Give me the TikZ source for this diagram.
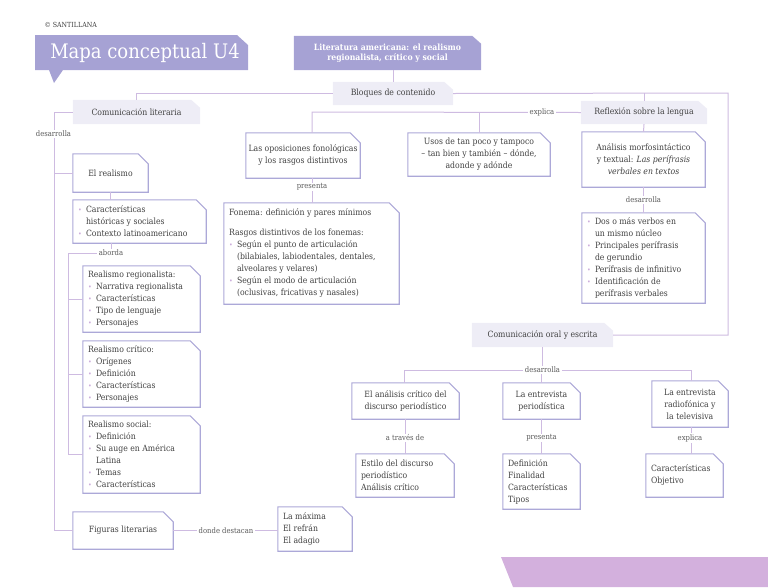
\documentclass[tikz,border=0pt]{standalone}
\usepackage{fontspec}
\setmainfont{DejaVu Serif Condensed}
\usetikzlibrary{backgrounds}
\definecolor{lila}{HTML}{A6A2D4}
\definecolor{lilaclaro}{HTML}{EEEDF6}
\definecolor{borde}{HTML}{ACA8D8}
\definecolor{linea}{HTML}{CEBBE1}
\definecolor{punto}{HTML}{CDAEDC}
\definecolor{franja}{HTML}{D3B0DD}
\definecolor{texto}{HTML}{404040}
\definecolor{gris}{HTML}{5A5A5A}
\newcommand\bul{\makebox[8pt][l]{\textcolor{punto}{\scriptsize•}}}
\newcommand\sig{\hspace*{8pt}}
\tikzset{
	caja/.style={inner xsep=5pt, inner ysep=2pt, text=texto, font=\fontsize{8.6}{12}\selectfont},
	etq/.style={fill=white, text=gris, inner xsep=2pt, inner ysep=1pt, font=\fontsize{7.6}{9}\selectfont},
	marco/.style={draw=borde, fill=white, line width=1.1pt},
	con/.style={draw=linea, line width=1pt}
}
\begin{document}
\begin{tikzpicture}[x=1pt, y=-1pt, line join=round, line cap=round]
	\useasboundingbox (0,0) rectangle (768,587);
	\path 
	(54,112) coordinate (izq)
	(68,253) coordinate (izq2)
	(728,93) coordinate (der)
	(312,112) coordinate (c1)
	(404,370) coordinate (c2)
	(691,370) coordinate (c3)
	;
	\fill[lila] (35,35) -- (237,35) -- (248,45) -- (248,70) -- (63,70) -- (54,83) -- (49,70) -- (35,70) -- cycle;
	\fill[franja] (501,557) -- (768,557) -- (768,587) -- (513,587) -- cycle;
	\node[anchor=west, text=texto, font=\fontsize{7}{8}\selectfont] (marca) at (41,25) {© SANTILLANA};
	\node[text=white, font=\fontsize{20}{24}\selectfont] (mapa) at (145,53) {Mapa conceptual U4};
	\node[caja, text=white, font=\bfseries\fontsize{8.6}{10.5}\selectfont, text width=177pt, minimum height=34pt, align=flush center] (tema) at (387.5,53) {Literatura americana: el realismo\\regionalista, crítico y social};
	\node[caja, text width=110pt, minimum height=23pt, align=flush center] (bloques) at (393,93.5) {Bloques de contenido};
	\node[caja, text width=117pt, minimum height=24pt, align=flush center] (comlit) at (136.5,112) {Comunicación literaria};
	\node[caja, text width=116pt, minimum height=23pt, align=flush center] (reflex) at (644,112.5) {Reflexión sobre la lengua};
	\node[caja, text width=131pt, minimum height=24pt, align=flush center] (comoral) at (542.5,335) {Comunicación oral y escrita};
	% comunicacion literaria
	\node[caja, text width=65pt, minimum height=38pt, align=flush center] (realismo) at (110.5,173) {El realismo};
	\node[caja, text width=123pt, minimum height=43pt, align=flush left] (caract) at (139.5,221.5) {\bul Características\\\sig históricas y sociales\\\bul Contexto latinoamericano};
	\node[caja, text width=107pt, minimum height=66pt, align=flush left] (regional) at (141.5,299) {Realismo regionalista:\\\bul Narrativa regionalista\\\bul Características\\\bul Tipo de lenguaje\\\bul Personajes};
	\node[caja, text width=107pt, minimum height=66pt, align=flush left] (critico) at (141.5,374) {Realismo crítico:\\\bul Orígenes\\\bul Definición\\\bul Características\\\bul Personajes};
	\node[caja, text width=107pt, minimum height=77pt, align=flush left] (social) at (141.5,454.5) {Realismo social:\\\bul Definición\\\bul Su auge en América\\\sig Latina\\\bul Temas\\\bul Características};
	\node[caja, text width=90pt, minimum height=37pt, align=flush center] (figuras) at (123,530.5) {Figuras literarias};
	\node[caja, text width=64pt, minimum height=44pt, align=flush left] (maxima) at (315,529) {La máxima\\El refrán\\El adagio};
	% reflexion sobre la lengua
	\node[caja, inner xsep=1pt, text width=112pt, minimum height=45pt, align=flush center] (oposic) at (303,155.5) {Las oposiciones fonológicas\\y los rasgos distintivos};
	\node[caja, text width=165pt, minimum height=101pt, align=flush left] (fonema) at (311.5,253.5) {Fonema: definición y pares mínimos\\[8pt]Rasgos distintivos de los fonemas:\\\bul Según el punto de articulación\\\sig (bilabiales, labiodentales, dentales,\\\sig alveolares y velares)\\\bul Según el modo de articulación\\\sig (oclusivas, fricativas y nasales)};
	\node[caja, text width=132pt, minimum height=43pt, align=flush center] (usos) at (479,154.5) {Usos de tan poco y tampoco\\– tan bien y también – dónde,\\adonde y adónde};
	\node[caja, text width=113pt, minimum height=55pt, align=flush center] (analisis) at (643.5,159.5) {Análisis morfosintáctico\\y textual: \textit{Las perífrasis}\\\textit{verbales en textos}};
	\node[caja, text width=113pt, minimum height=90pt, align=flush left] (perif) at (643.5,258) {\bul Dos o más verbos en\\\sig un mismo núcleo\\\bul Principales perífrasis\\\sig de gerundio\\\bul Perífrasis de infinitivo\\\bul Identificación de\\\sig perífrasis verbales};
	% comunicacion oral y escrita
	\node[caja, text width=97pt, minimum height=36pt, align=flush center] (analcrit) at (405.5,401) {El análisis crítico del\\discurso periodístico};
	\node[caja, text width=67pt, minimum height=36pt, align=flush center] (entper) at (541.5,401) {La entrevista\\periodística};
	\node[caja, text width=66pt, minimum height=46pt, align=flush center] (entrad) at (690,404) {La entrevista\\radiofónica y\\la televisiva};
	\node[caja, text width=88pt, minimum height=43pt, align=flush left] (estilo) at (405,475.5) {Estilo del discurso\\periodístico\\Análisis crítico};
	\node[caja, text width=67pt, minimum height=55pt, align=flush left] (defin) at (541.5,481.5) {Definición\\Finalidad\\Características\\Tipos};
	\node[caja, text width=67pt, minimum height=43pt, align=flush left] (carobj) at (684.5,475.5) {Características\\Objetivo};
	% etiquetas
	\node[etq] (desarrolla1) at (53.5,134) {desarrolla};
	\node[etq] (aborda) at (111,253) {aborda};
	\node[etq] (donde) at (226,530.5) {donde destacan};
	\node[etq] (explica1) at (542,112.5) {explica};
	\node[etq] (presenta1) at (312,187) {presenta};
	\node[etq] (desarrolla2) at (643.5,200) {desarrolla};
	\node[etq] (desarrolla3) at (542.5,370) {desarrolla};
	\node[etq] (atraves) at (405,438) {a través de};
	\node[etq] (presenta2) at (541.5,438) {presenta};
	\node[etq] (explica2) at (690,438) {explica};
	\begin{scope}[on background layer]
		\foreach \n in {realismo,caract,regional,critico,social,figuras,maxima,oposic,fonema,usos,analisis,perif,analcrit,entper,entrad,estilo,defin,carobj}
		\draw[marco] (\n.north west) -- ([xshift=-10pt]\n.north east) -- ([yshift=-10pt]\n.north east) |- (\n.south west) -- cycle;
		\foreach \n/\c in {tema/lila,bloques/lilaclaro,comlit/lilaclaro,reflex/lilaclaro,comoral/lilaclaro}
		\fill[\c] (\n.north west) -- ([xshift=-9pt]\n.north east) -- ([yshift=-8pt]\n.north east) |- (\n.south west) -- cycle;
		\draw[con] (bloques.north |- tema.south) -- (bloques.north);
		\draw[con] (bloques.west) -| (comlit.north);
		\draw[con] (bloques.east) -- (der) |- (comoral.east);
		\draw[con] (reflex.north) -- (reflex.north |- der);
		\draw[con] (comlit.west) -- (izq) |- (figuras.west);
		\draw[con] (realismo.west) -- (realismo.west -| izq);
		\draw[con] (realismo.south) -- (realismo.south |- caract.north);
		\draw[con] (aborda) -- (aborda |- caract.south);
		\draw[con] (aborda) -- (izq2) |- (social.west);
		\draw[con] (regional.west) -- (regional.west -| izq2);
		\draw[con] (critico.west) -- (critico.west -| izq2);
		\draw[con] (figuras.east) -- (figuras.east -| maxima.west);
		\draw[con] (reflex.west) -- (c1) -- (c1 |- oposic.north);
		\draw[con] (usos.north) -- (usos.north |- c1);
		\draw[con] (c1 |- oposic.south) -- (c1 |- fonema.north);
		\draw[con] (reflex.south) -- (analisis.north);
		\draw[con] (analisis.south) -- (analisis.south |- perif.north);
		\draw[con] (comoral.south) -- (comoral.south |- c2);
		\draw[con] (c2) -- (c3);
		\draw[con] (c2) -- (c2 |- analcrit.north);
		\draw[con] (entper.north) -- (entper.north |- c2);
		\draw[con] (c3) -- (c3 |- entrad.north);
		\draw[con] (analcrit.south) -- (analcrit.south |- estilo.north);
		\draw[con] (entper.south) -- (entper.south |- defin.north);
		\draw[con] (c3 |- entrad.south) -- (c3 |- carobj.north);
	\end{scope}
\end{tikzpicture}
\end{document}
